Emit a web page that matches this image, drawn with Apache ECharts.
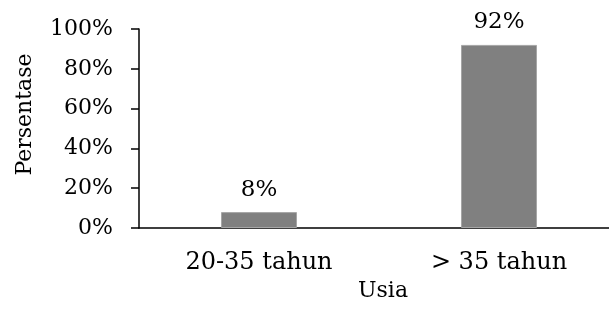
<!DOCTYPE html>
<html><head><meta charset="utf-8">
<script src="https://cdn.jsdelivr.net/npm/echarts@6/dist/echarts.min.js"></script>
<style>html,body{margin:0;padding:0;background:#fff}#c{width:609px;height:318px}</style>
</head><body><div id="c"></div>
<script>
const categories = ['20-35 tahun', '> 35 tahun'];
const values = [8, 92];
const yTicks = [0, 20, 40, 60, 80, 100];
const xName = 'Usia';
const yName = 'Persentase';

const FONT = '"DejaVu Serif", serif';
const chart = echarts.init(document.getElementById('c'), null, {renderer: 'canvas'});
chart.setOption({
  animation: false,
  backgroundColor: '#fff',
  grid: {left: 139, top: 29, bottom: 90, width: 480, containLabel: false, outerBoundsMode: 'none'},
  xAxis: {
    type: 'category', data: categories,
    name: xName, nameLocation: 'middle', nameGap: 52,
    nameTextStyle: {fontFamily: FONT, fontSize: 22, color: '#000', padding: [0,0,0,8]},
    axisLine: {lineStyle: {color: '#000', width: 1.5}},
    axisTick: {alignWithLabel: true, length: 6, lineStyle: {color: '#000', width: 1.5}},
    axisLabel: {fontFamily: FONT, fontSize: 24, color: '#000', margin: 23}
  },
  yAxis: {
    type: 'value', min: yTicks[0], max: yTicks[yTicks.length-1], interval: 20,
    name: yName, nameLocation: 'middle', nameGap: 103, nameRotate: 90,
    nameTextStyle: {fontFamily: FONT, fontSize: 22, color: '#000', padding: [0,0,0,28]},
    axisLine: {show: true, lineStyle: {color: '#000', width: 1.5}},
    axisTick: {show: true, length: 8, lineStyle: {color: '#000', width: 1.5}},
    splitLine: {show: false},
    axisLabel: {fontFamily: FONT, fontSize: 22, color: '#000', margin: 26, formatter: '{value}%'}
  },
  series: [{
    type: 'bar', data: values, barWidth: 76,
    itemStyle: {color: '#808080', borderColor: '#a6a6a6', borderWidth: 1},
    label: {show: true, position: 'top', distance: 11, formatter: '{c}%', fontFamily: FONT, fontSize: 23, color: '#000'}
  }]
});
</script></body></html>
